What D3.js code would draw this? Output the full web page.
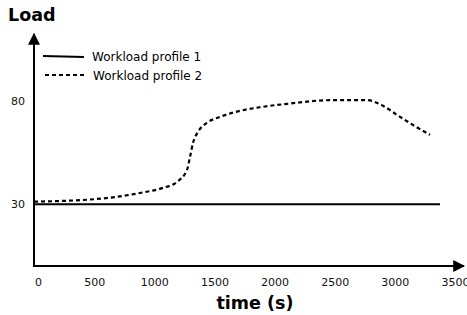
<!DOCTYPE html>
<html>
<head>
<meta charset="utf-8">
<script src="https://cdn.jsdelivr.net/npm/d3@7"></script>
<style>
	body { margin: 0; background: #fff; }
	text { font-family: "DejaVu Sans", sans-serif; }
</style>
</head>
<body>
<svg id="svg" width="467" height="315"></svg>
<script>
const xTicks = [0, 500, 1000, 1500, 2000, 2500, 3000, 3500]
const yTicks = [30, 80]

const profile1Time = [0, 3375]
const profile1Load = [30, 30]

const profile2Time = [0, 524, 881, 1072, 1189, 1272, 1297, 1322, 1363, 1438, 1546, 1712, 1904, 2103, 2461, 2768, 2901, 3017, 3150, 3292]
const profile2Load = [31.2, 32.5, 35.4, 37.9, 40.8, 46.6, 52.9, 59.7, 65.0, 69.4, 72.3, 75.2, 77.2, 78.6, 80.4, 80.4, 77.7, 73.3, 68.4, 63.6]

const legendLabels = ['Workload profile 1', 'Workload profile 2']

const $svg = d3.select('#svg')

const x = d3.scaleLinear().domain([0, 3500]).range([34, 455])
const y = d3.scaleLinear().domain([0, 80]).range([266, 101])

const zip = (xs, ys) => xs.map((v, i) => ({ x: v, y: ys[i] }))

// arrow head
$svg.append('defs').append('marker')
	.attr('id', 'arrow')
	.attr('viewBox', '0 0 10 10')
	.attr('refX', 9).attr('refY', 5)
	.attr('markerWidth', 6).attr('markerHeight', 6)
	.attr('markerUnits', 'strokeWidth')
	.attr('orient', 'auto')
	.append('path')
	.attr('d', 'M0,0 L10,5 L0,10 Z')
	.attr('fill', '#000')

// axes lines with arrows
$svg.append('line')
	.attr('x1', x(0)).attr('y1', y(0))
	.attr('x2', x(0)).attr('y2', 34)
	.attr('stroke', '#000').attr('stroke-width', 2)
	.attr('marker-end', 'url(#arrow)')
$svg.append('line')
	.attr('x1', x(0) - 1).attr('y1', y(0))
	.attr('x2', 464).attr('y2', y(0))
	.attr('stroke', '#000').attr('stroke-width', 2)
	.attr('marker-end', 'url(#arrow)')

// tick labels
const xAxis = $svg.append('g')
	.attr('transform', `translate(0, ${y(0) + 9})`)
	.call(d3.axisBottom(x).tickValues(xTicks).tickSize(0).tickFormat(d3.format('d')))
xAxis.select('.domain').remove()
xAxis.selectAll('text')
	.attr('font-size', 11).attr('font-family', 'DejaVu Sans')
	.attr('fill', '#111')
	.attr('dx', d => d === 0 ? 4 : 0)

const yAxis = $svg.append('g')
	.attr('transform', `translate(${x(0) - 6}, 0)`)
	.call(d3.axisLeft(y).tickValues(yTicks).tickSize(0))
yAxis.select('.domain').remove()
yAxis.selectAll('text')
	.attr('font-size', 11).attr('font-family', 'DejaVu Sans')
	.attr('fill', '#111')

// series
const line = d3.line().x(d => x(d.x)).y(d => y(d.y))
const smooth = d3.line().x(d => x(d.x)).y(d => y(d.y)).curve(d3.curveMonotoneX)

$svg.append('path')
	.attr('d', line(zip(profile1Time, profile1Load)))
	.attr('fill', 'none').attr('stroke', '#000').attr('stroke-width', 2)

$svg.append('path')
	.attr('d', smooth(zip(profile2Time, profile2Load)))
	.attr('fill', 'none').attr('stroke', '#000').attr('stroke-width', 2.2)
	.attr('stroke-dasharray', '4,3')

// legend
const legend = $svg.append('g')
legendLabels.forEach((label, i) => {
	const ly = 56 + i * 19
	legend.append('line')
		.attr('x1', 43 + i * 2).attr('y1', ly)
		.attr('x2', 84 + i * 2).attr('y2', ly + (i === 0 ? 1 : 0))
		.attr('stroke', '#000').attr('stroke-width', 2)
		.attr('stroke-dasharray', i === 0 ? null : '4,3')
	legend.append('text')
		.attr('x', 92 + i).attr('y', ly + 1)
		.attr('dominant-baseline', 'middle')
		.attr('font-size', 12)
		.text(label)
})

// axis titles
$svg.append('text')
	.attr('x', 8).attr('y', 21)
	.attr('font-size', 17.5).attr('font-weight', 'bold')
	.text('Load')
$svg.append('text')
	.attr('x', 255).attr('y', 309)
	.attr('text-anchor', 'middle')
	.attr('font-size', 17.5).attr('font-weight', 'bold')
	.text('time (s)')
</script>
</body>
</html>
